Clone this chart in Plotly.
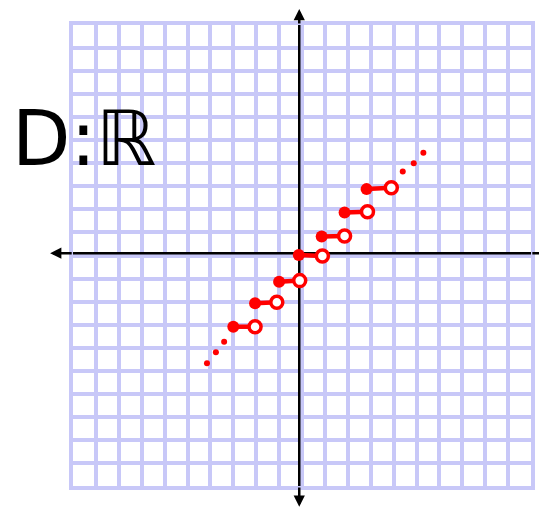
import plotly.graph_objects as go

# Step segments (floor-like function) in grid units
seg_start_x = [-3.0, -2.05, -1.0, -0.14, 0.86, 1.86, 2.82]
seg_start_y = [-3.09, -2.07, -1.14, 0.02, 0.82, 1.87, 2.88]
seg_end_x = [-2.05, -1.1, -0.1, 0.89, 1.86, 2.86, 3.9]
seg_end_y = [-3.09, -2.03, -1.09, -0.02, 0.85, 1.9, 2.94]

# Continuation dots
dots_x = [-4.15, -3.76, -3.4, 4.4, 4.88, 5.3]
dots_y = [-4.68, -4.2, -3.74, 3.64, 4.0, 4.46]

# Hand-drawn axes (crossing point and extents, grid units)
axis_cross_x = -0.12
axis_cross_y = 0.1
h_axis_ends = [-11.0, 10.9]
v_axis_ends = [-10.9, 10.95]

label_text = "D:ℝ"

RED = "#ff0000"
GRID = "#c8c8f8"
AXIS_W = 2.5

# page offset compensation (browser body margin)
OFF = 8
FIG_W, FIG_H = 547 - OFF, 510 - OFF
ML, MR, MT, MB = 73 - OFF, FIG_W - (535 - OFF), 25 - OFF, FIG_H - (486 - OFF)
PW, PH = FIG_W - ML - MR, FIG_H - MT - MB
XR = [-10, 10]
YR = [-10, 10]


def fx(v):
    return (v - XR[0]) / (XR[1] - XR[0])


def fy(v):
    return (v - YR[0]) / (YR[1] - YR[0])


fig = go.Figure()

lx, ly = [], []
for x0, y0, x1, y1 in zip(seg_start_x, seg_start_y, seg_end_x, seg_end_y):
    lx += [x0, x1, None]
    ly += [y0, y1, None]

fig.add_trace(go.Scatter(x=lx, y=ly, mode="lines",
                         line=dict(color=RED, width=4.5), hoverinfo="skip"))
fig.add_trace(go.Scatter(x=seg_end_x, y=seg_end_y, mode="markers",
                         marker=dict(size=12, color="white",
                                     line=dict(color=RED, width=3.5)),
                         hoverinfo="skip"))
fig.add_trace(go.Scatter(x=seg_start_x, y=seg_start_y, mode="markers",
                         marker=dict(size=12, color=RED), hoverinfo="skip"))
fig.add_trace(go.Scatter(x=dots_x, y=dots_y, mode="markers",
                         marker=dict(size=6, color=RED), hoverinfo="skip"))

# axis lines inside the grid, under the red marks
fig.add_shape(type="line", xref="x", yref="y", layer="between",
              x0=XR[0], x1=XR[1], y0=axis_cross_y, y1=axis_cross_y,
              line=dict(color="black", width=AXIS_W))
fig.add_shape(type="line", xref="x", yref="y", layer="between",
              x0=axis_cross_x, x1=axis_cross_x, y0=YR[0], y1=YR[1],
              line=dict(color="black", width=AXIS_W))

# axis parts outside the grid, with arrowheads
def outer(xh, yh, xt, yt, head):
    fig.add_annotation(x=fx(xh), y=fy(yh), xref="paper", yref="paper",
                       ax=(xt - xh) * PW / 20, ay=-(yt - yh) * PH / 20,
                       text="", showarrow=True, arrowhead=head,
                       arrowwidth=AXIS_W, arrowsize=0.9, arrowcolor="black",
                       standoff=0, startstandoff=0)


outer(h_axis_ends[0], axis_cross_y, XR[0], axis_cross_y, 2)
outer(h_axis_ends[1], axis_cross_y, XR[1], axis_cross_y, 0)
outer(axis_cross_x, v_axis_ends[1], axis_cross_x, YR[1], 2)
outer(axis_cross_x, v_axis_ends[0], axis_cross_x, YR[0], 2)

fig.add_annotation(x=(84 - 73) / PW, y=(486 - 138) / PH, xref="paper", yref="paper",
                   text=label_text, showarrow=False, xanchor="center", yanchor="middle",
                   font=dict(family="DejaVu Sans", size=76, color="black"))

axis_common = dict(dtick=1, tick0=0, showgrid=True,
                   gridcolor=GRID, gridwidth=4, zeroline=False,
                   showticklabels=False, ticks="", showline=True, mirror=True,
                   linecolor=GRID, linewidth=4, fixedrange=True)

fig.update_layout(
    width=FIG_W, height=FIG_H,
    margin=dict(l=ML, r=MR, t=MT, b=MB),
    paper_bgcolor="white", plot_bgcolor="white",
    showlegend=False,
    xaxis=dict(range=XR, **axis_common),
    yaxis=dict(range=YR, **axis_common),
)

fig.write_html("out.html")
